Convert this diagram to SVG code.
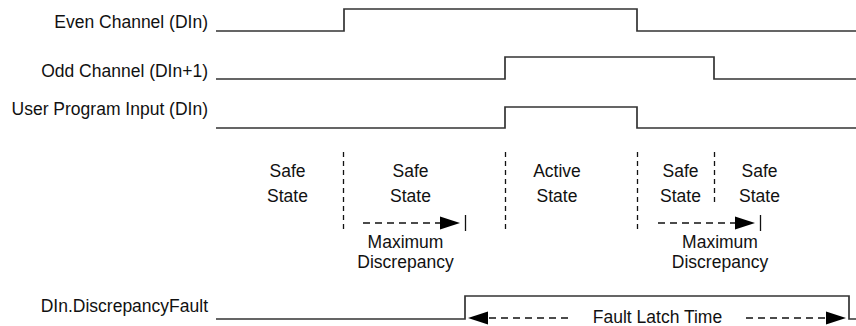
<svg xmlns="http://www.w3.org/2000/svg" width="856" height="326" viewBox="0 0 856 326">
<defs>
<style>
text{font-family:"Liberation Sans",Arial,Helvetica,sans-serif;font-size:17.5px;fill:#111}
.lbl{text-anchor:end}
.mid{text-anchor:middle}
.wave{fill:none;stroke:#333;stroke-width:1.7}
.vdash{fill:none;stroke:#111;stroke-width:1.3;stroke-dasharray:5 4}
.hdash{fill:none;stroke:#111;stroke-width:1.3;stroke-dasharray:7 5}
.tick{fill:none;stroke:#111;stroke-width:1.3}
.head{fill:#000;stroke:none}
</style>
</defs>
<g id="even">
<text class="lbl" x="208" y="28">Even Channel (DIn)</text>
<path class="wave" d="M216,31 H344 V9 H637 V31 H856"/>
</g>
<g id="odd">
<text class="lbl" x="208" y="77">Odd Channel (DIn+1)</text>
<path class="wave" d="M216,79 H505 V57 H714 V79 H856"/>
</g>
<g id="user">
<text class="lbl" x="208" y="115">User Program Input (DIn)</text>
<path class="wave" d="M216,128 H505 V107 H637 V128 H856"/>
</g>
<g id="fault">
<text class="lbl" x="208" y="312">DIn.DiscrepancyFault</text>
<path class="wave" d="M216,319 H465 V296 H849 V319 H856"/>
<text class="mid" x="657.5" y="322.5">Fault Latch Time</text>
</g>
<g id="states">
<text class="mid" x="287.5" y="176.5">Safe</text>
<text class="mid" x="287.5" y="201.5">State</text>
<text class="mid" x="410.5" y="176.5">Safe</text>
<text class="mid" x="410.5" y="201.5">State</text>
<text class="mid" x="557" y="176.5">Active</text>
<text class="mid" x="557" y="201.5">State</text>
<text class="mid" x="680.5" y="176.5">Safe</text>
<text class="mid" x="680.5" y="201.5">State</text>
<text class="mid" x="759.5" y="176.5">Safe</text>
<text class="mid" x="759.5" y="201.5">State</text>
<text class="mid" x="405.5" y="248">Maximum</text>
<text class="mid" x="405.5" y="268">Discrepancy</text>
<text class="mid" x="720" y="248">Maximum</text>
<text class="mid" x="720" y="268">Discrepancy</text>
</g>
<g id="connectors">
<line class="vdash" x1="343.5" y1="152" x2="343.5" y2="231"/>
<line class="vdash" x1="505.5" y1="152" x2="505.5" y2="231"/>
<line class="vdash" x1="637.5" y1="152" x2="637.5" y2="231"/>
<line class="vdash" x1="714.5" y1="152" x2="714.5" y2="206"/>
<line class="hdash" x1="363" y1="223" x2="440" y2="223"/>
<polygon class="head" points="440,216.5 460,223 440,229.5"/>
<line class="tick" x1="465.5" y1="215" x2="465.5" y2="231"/>
<line class="hdash" x1="658" y1="223" x2="735" y2="223"/>
<polygon class="head" points="735,216.5 755,223 735,229.5"/>
<line class="tick" x1="760.5" y1="215" x2="760.5" y2="231"/>
<line class="hdash" x1="568" y1="318" x2="488" y2="318"/>
<polygon class="head" points="488,311.5 468,318 488,324.5"/>
<line class="hdash" x1="746" y1="318" x2="826" y2="318"/>
<polygon class="head" points="826,311.5 846,318 826,324.5"/>
</g>
</svg>
